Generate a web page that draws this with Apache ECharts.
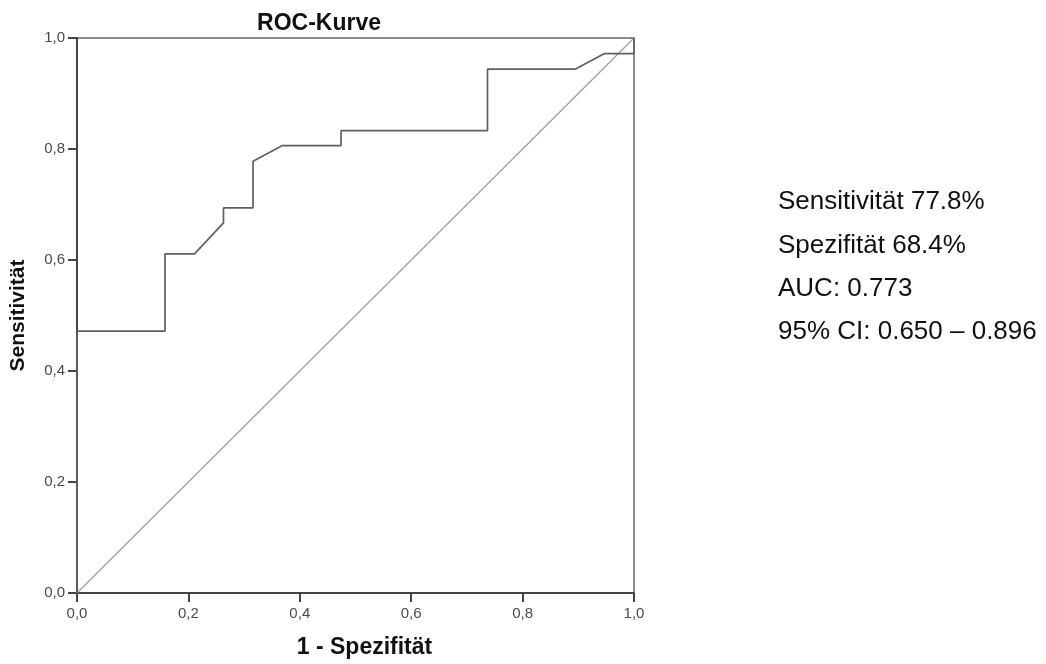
<!DOCTYPE html>
<html>
<head>
<meta charset="utf-8">
<title>ROC-Kurve</title>
<script src="https://cdn.jsdelivr.net/npm/echarts@6/dist/echarts.min.js"></script>
<style>
  html, body { margin: 0; padding: 0; background: #fff; }
  #chart { width: 1046px; height: 664px; }
</style>
</head>
<body>
<div id="chart"></div>
<script>
// ROC-Kurve: Punkte (1 - Spezifität, Sensitivität)
var rocFpr  = [0, 0, 0.158, 0.158, 0.211, 0.263, 0.263, 0.316, 0.316, 0.368, 0.474, 0.474, 0.737, 0.737, 0.895, 0.947, 1, 1];
var rocSens = [0, 0.472, 0.472, 0.611, 0.611, 0.667, 0.694, 0.694, 0.778, 0.806, 0.806, 0.833, 0.833, 0.944, 0.944, 0.972, 0.972, 1];
// Bezugslinie
var refFpr  = [0, 1];
var refSens = [0, 1];
var statLines = ['Sensitivität 77.8%', 'Spezifität 68.4%', 'AUC: 0.773', '95% CI: 0.650 – 0.896'];

var zip = function(xs, ys) {
    var out = [];
    for (var i = 0; i < xs.length; i++) {
        out.push([xs[i], ys[i]]);
    }
    return out;
};

var fmt = function(v) {
    return v.toFixed(1).replace('.', ',');
};

var valueAxis = function(name, gap, size) {
    return {
        type: 'value',
        min: 0,
        max: 1,
        interval: 0.2,
        name: name,
        nameLocation: 'middle',
        nameGap: gap,
        nameTextStyle: { fontFamily: 'Liberation Sans', fontWeight: 'bold', fontSize: size, color: '#111' },
        axisLine: { show: true, lineStyle: { color: '#444', width: 2 } },
        axisTick: { show: true, length: 9, lineStyle: { color: '#444', width: 2 } },
        axisLabel: { formatter: fmt, fontFamily: 'Liberation Sans', fontSize: 15, color: '#4a4a4a', margin: 12 },
        splitLine: { show: false }
    };
};

var chart = echarts.init(document.getElementById('chart'));

var xAx = valueAxis('1 - Spezifität', 43, 23);
xAx.nameTextStyle.padding = [0, 0, 0, 18];
xAx.axisLabel.margin = 13;
var yAx = valueAxis('Sensitivität', 48, 21);

var texts = statLines.map(function(t, i) {
    return {
        type: 'text',
        left: 778,
        top: 189 + i * 43.4,
        style: { text: t, font: '26px "Liberation Sans", Arial, sans-serif', fill: '#111' }
    };
});

chart.setOption({
    animation: false,
    backgroundColor: '#fff',
    title: {
        text: 'ROC-Kurve',
        left: 314,
        textAlign: 'center',
        top: 7,
        textStyle: { fontFamily: 'Liberation Sans', fontWeight: 'bold', fontSize: 23, color: '#111' }
    },
    grid: {
        left: 77, top: 38, width: 557, height: 557,
        show: true, borderColor: '#666', borderWidth: 1.5, backgroundColor: 'transparent'
    },
    xAxis: xAx,
    yAxis: yAx,
    series: [
        {
            type: 'line',
            data: zip(refFpr, refSens),
            showSymbol: false,
            lineStyle: { color: '#a0a0a0', width: 1.3 },
            z: 2
        },
        {
            type: 'line',
            data: zip(rocFpr, rocSens),
            showSymbol: false,
            lineStyle: { color: '#606060', width: 1.7 },
            z: 3
        }
    ],
    graphic: texts
});
</script>
</body>
</html>
